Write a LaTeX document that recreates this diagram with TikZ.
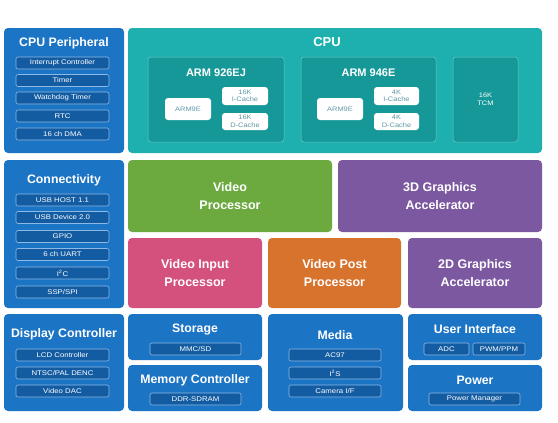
\documentclass[tikz,border=0pt]{standalone}
\usepackage{fontspec}
\setmainfont{Liberation Sans}
\newfontfamily\itemfont[FakeStretch=1.15]{Liberation Sans}
\definecolor{cblue}{RGB}{28,116,196}
\definecolor{citem}{RGB}{20,92,162}
\definecolor{citemb}{RGB}{140,185,230}
\definecolor{cteal}{RGB}{30,176,174}
\definecolor{cteali}{RGB}{22,152,152}
\definecolor{ctealb}{RGB}{100,205,200}
\definecolor{cgreen}{RGB}{108,170,64}
\definecolor{cpurple}{RGB}{124,88,160}
\definecolor{cpink}{RGB}{212,80,125}
\definecolor{corange}{RGB}{215,115,45}
\definecolor{cwtext}{RGB}{95,150,165}
\begin{document}
\begin{tikzpicture}[x=1pt,y=-1pt,
  box/.style={rounded corners=4pt, inner sep=0pt, outer sep=0pt, minimum width=#1},
  blue/.style={fill=cblue},
  item/.style={fill=citem, draw=citemb, line width=0.6pt, rounded corners=2pt,
    minimum height=12pt, inner sep=0pt, text=white,
    font=\itemfont\fontsize{6.8}{7}\selectfont},
  ttl/.style={text=white, inner sep=0pt, font=\bfseries\fontsize{12.3}{14}\selectfont},
  big/.style={rounded corners=4pt, text=white, inner sep=0pt, align=center,
    font=\bfseries\fontsize{12.5}{18}\selectfont},
  inner/.style={fill=cteali, draw=ctealb, line width=0.5pt, rounded corners=3pt, inner sep=0pt},
  wbox/.style={fill=white, rounded corners=3pt, inner sep=0pt, align=center, text=cwtext,
    font=\itemfont\fontsize{6.5}{7.5}\selectfont},
]
\useasboundingbox (0,0) rectangle (558,423);
\fill[white] (0,0) rectangle (558,423);

% ---- CPU Peripheral
\node[box=120pt, blue, minimum height=125pt] (cpuper) at (64,90.5) {};
\node[ttl] (cpupert) at (64,43) {CPU Peripheral};
\node[item, minimum width=93pt] (ic) at (62.5,63) {Interrupt Controller};
\node[item, minimum width=93pt] (tm) at (62.5,80.5) {Timer};
\node[item, minimum width=93pt] (wd) at (62.5,98) {Watchdog Timer};
\node[item, minimum width=93pt] (rtc) at (62.5,116) {RTC};
\node[item, minimum width=93pt] (dma) at (62.5,134) {16 ch DMA};

% ---- CPU
\node[box=414pt, fill=cteal, minimum height=125pt] (cpu) at (335,90.5) {};
\node[ttl, font=\bfseries\fontsize{13}{15}\selectfont] (cput) at (327,42) {CPU};
\node[inner, minimum width=136pt, minimum height=85pt] (a926) at (216,99.5) {};
\node[ttl, font=\bfseries\fontsize{11}{13}\selectfont] (a926t) at (216,73) {ARM 926EJ};
\node[wbox, minimum width=46pt, minimum height=22pt] (a9e1) at (188,109) {ARM9E};
\node[wbox, minimum width=46pt, minimum height=18pt] (ic1) at (245,96) {16K\\I-Cache};
\node[wbox, minimum width=46pt, minimum height=17pt] (dc1) at (245,121.5) {16K\\D-Cache};
\node[inner, minimum width=135pt, minimum height=85pt] (a946) at (368.5,99.5) {};
\node[ttl, font=\bfseries\fontsize{11}{13}\selectfont] (a946t) at (368.5,73) {ARM 946E};
\node[wbox, minimum width=46pt, minimum height=22pt] (a9e2) at (340,109) {ARM9E};
\node[wbox, minimum width=45pt, minimum height=18pt] (ic2) at (396.5,96) {4K\\I-Cache};
\node[wbox, minimum width=45pt, minimum height=17pt] (dc2) at (396.5,121.5) {4K\\D-Cache};
\node[inner, minimum width=65pt, minimum height=85pt, align=center, text=white,
  font=\itemfont\fontsize{6.5}{7.5}\selectfont] (tcm) at (485.5,99.5) {16K\\TCM};

% ---- Connectivity
\node[box=120pt, blue, minimum height=148pt] (conn) at (64,234) {};
\node[ttl] (connt) at (64,180) {Connectivity};
\node[item, minimum width=93pt] (usbh) at (62.5,200) {USB HOST 1.1};
\node[item, minimum width=93pt] (usbd) at (62.5,217.5) {USB Device 2.0};
\node[item, minimum width=93pt] (gpio) at (62.5,236.5) {GPIO};
\node[item, minimum width=93pt] (uart) at (62.5,254.5) {6 ch UART};
\node[item, minimum width=93pt] (iic) at (62.5,273) {I\textsuperscript{2}C};
\node[item, minimum width=93pt] (ssp) at (62.5,292) {SSP/SPI};

% ---- Processors
\node[big, fill=cgreen, minimum width=204pt, minimum height=72pt] (vp) at (230,196) {Video\\Processor};
\node[big, fill=cpurple, minimum width=204pt, minimum height=72pt] (g3d) at (440,196) {3D Graphics\\Accelerator};
\node[big, fill=cpink, minimum width=134pt, minimum height=70pt] (vip) at (195,273) {Video Input\\Processor};
\node[big, fill=corange, minimum width=133pt, minimum height=70pt] (vpp) at (334.5,273) {Video Post\\Processor};
\node[big, fill=cpurple, minimum width=134pt, minimum height=70pt] (g2d) at (475,273) {2D Graphics\\Accelerator};

% ---- Display Controller
\node[box=120pt, blue, minimum height=97pt] (disp) at (64,362.5) {};
\node[ttl] (dispt) at (64,334) {Display Controller};
\node[item, minimum width=93pt] (lcd) at (62.5,355) {LCD Controller};
\node[item, minimum width=93pt] (ntsc) at (62.5,373) {NTSC/PAL DENC};
\node[item, minimum width=93pt] (vdac) at (62.5,391) {Video DAC};

% ---- Storage / Memory
\node[box=134pt, blue, minimum height=46pt] (stor) at (195,337) {};
\node[ttl] (stort) at (195,329.5) {Storage};
\node[item, minimum width=91pt] (mmc) at (195.5,349) {MMC/SD};
\node[box=134pt, blue, minimum height=46pt] (mem) at (195,388) {};
\node[ttl] (memt) at (195,380) {Memory Controller};
\node[item, minimum width=91pt] (ddr) at (195.5,399) {DDR-SDRAM};

% ---- Media
\node[box=135pt, blue, minimum height=97pt] (media) at (335.5,362.5) {};
\node[ttl] (mediat) at (335,335) {Media};
\node[item, minimum width=92pt] (ac97) at (335,355) {AC97};
\node[item, minimum width=92pt] (iis) at (335,373) {I\textsuperscript{2}S};
\node[item, minimum width=92pt] (cam) at (335,391) {Camera I/F};

% ---- User Interface / Power
\node[box=134pt, blue, minimum height=46pt] (ui) at (475,337) {};
\node[ttl] (uit) at (475,329.5) {User Interface};
\node[item, minimum width=45pt] (adc) at (446.5,349) {ADC};
\node[item, minimum width=52pt] (pwm) at (499,349) {PWM/PPM};
\node[box=134pt, blue, minimum height=46pt] (pwr) at (475,388) {};
\node[ttl] (pwrt) at (475,380) {Power};
\node[item, minimum width=91pt] (pm) at (474.5,399) {Power Manager};
\end{tikzpicture}
\end{document}
